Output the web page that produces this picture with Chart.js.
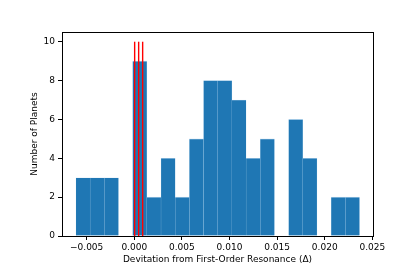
<!DOCTYPE html>
<html>
<head>
<meta charset="utf-8">
<script src="https://cdn.jsdelivr.net/npm/chart.js@4/dist/chart.umd.min.js"></script>
<style>
html,body{margin:0;padding:0;background:#fff;}
canvas{display:block;}
</style>
</head>
<body>
<canvas id="c" width="415" height="277"></canvas>
<script>
// Histogram bin centres (Δ) and counts
const binCenters = [-0.005380, -0.003891, -0.002402, -0.000913, 0.000576, 0.002065, 0.003554, 0.005043, 0.006532, 0.008021,
                    0.009510, 0.010999, 0.012488, 0.013977, 0.015466, 0.016955, 0.018444, 0.019933, 0.021422, 0.022911];
const binCounts = [3, 3, 3, 0, 9, 2, 4, 2, 5, 8, 8, 7, 4, 5, 0, 6, 4, 0, 2, 2];
// Red vertical reference lines
const redLineX = [0.00004, 0.00046, 0.00088];
const redLineTop = 10;
// Tick values / labels
const xTickValues = [-0.005, 0, 0.005, 0.010, 0.015, 0.020, 0.025];
const xTickLabels = ['\u22120.005', '0.000', '0.005', '0.010', '0.015', '0.020', '0.025'];
const yTickValues = [0, 2, 4, 6, 8, 10];
const yTickLabels = ['0', '2', '4', '6', '8', '10'];
const xRange = [-0.00759, 0.02507];
const yRange = [0, 10.5];

const FONT = "'DejaVu Sans', sans-serif";

const datasets = [{
  type: 'bar',
  data: binCenters.map((x, i) => ({x: x, y: binCounts[i]})),
  backgroundColor: '#1f77b4',
  borderColor: 'rgba(140,190,230,0.45)',
  borderWidth: {top: 0.6, left: 0.4, right: 0.4, bottom: 0},
  barPercentage: 1,
  categoryPercentage: 1,
  order: 2
}];
redLineX.forEach(x => {
  datasets.push({
    type: 'line',
    data: [{x: x, y: 0}, {x: x, y: redLineTop}],
    borderColor: '#ff0000',
    borderWidth: 1.4,
    pointRadius: 0,
    fill: false,
    order: 0
  });
});

const frame = {
  id: 'frame',
  afterDatasetsDraw(chart) {
    const a = chart.chartArea, ctx = chart.ctx;
    ctx.save();
    ctx.strokeStyle = '#000';
    ctx.lineWidth = 1;
    ctx.strokeRect(Math.round(a.left) + 0.5, Math.round(a.top) + 0.5,
                   Math.round(a.right) - Math.round(a.left), Math.round(a.bottom) - Math.round(a.top));
    ctx.restore();
  }
};

new Chart(document.getElementById('c'), {
  type: 'bar',
  data: {datasets: datasets},
  options: {
    responsive: false,
    devicePixelRatio: 1,
    animation: false,
    layout: {padding: {top: 32, right: 42, bottom: 0, left: 0}},
    plugins: {legend: {display: false}, tooltip: {enabled: false}},
    scales: {
      x: {
        type: 'linear',
        offset: false,
        min: xRange[0],
        max: xRange[1],
        afterBuildTicks: s => { s.ticks = xTickValues.map(v => ({value: v})); },
        afterFit: s => { s.height = 41; },
        ticks: {
          callback: (v, i) => xTickLabels[i],
          font: {family: FONT, size: 9},
          color: '#000',
          padding: 2,
          maxRotation: 0,
          autoSkip: false
        },
        grid: {display: true, drawOnChartArea: false, drawTicks: true, tickLength: 4, color: '#000', offset: false},
        border: {display: true, color: '#000', width: 1},
        title: {display: true, text: 'Devitation from First-Order Resonance (\u0394)',
                font: {family: FONT, size: 9}, color: '#000', padding: {top: 0, bottom: 12}}
      },
      y: {
        type: 'linear',
        min: yRange[0],
        max: yRange[1],
        afterBuildTicks: s => { s.ticks = yTickValues.map(v => ({value: v})); },
        afterFit: s => { s.width = 62; },
        ticks: {
          callback: (v, i) => yTickLabels[i],
          font: {family: FONT, size: 9},
          color: '#000',
          padding: 3
        },
        grid: {display: true, drawOnChartArea: false, drawTicks: true, tickLength: 4, color: '#000'},
        border: {display: true, color: '#000', width: 1},
        title: {display: true, text: 'Number of Planets',
                font: {family: FONT, size: 9}, color: '#000', padding: {top: 29, bottom: 0}}
      }
    }
  },
  plugins: [frame]
});
</script>
</body>
</html>
